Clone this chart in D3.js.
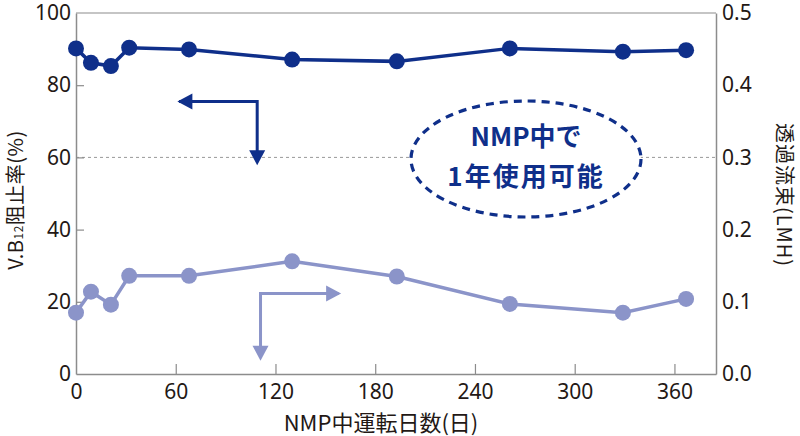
<!DOCTYPE html>
<html><head><meta charset="utf-8">
<script src="https://cdn.jsdelivr.net/npm/d3@7"></script>
<style>
body{margin:0;background:#fff;}
text{font-family:"Noto Sans CJK JP","Noto Sans",sans-serif;}
</style></head>
<body><svg id="c" width="800" height="436"></svg>
<script>
const days = [0, 9, 21, 32, 68, 130, 193, 261, 329, 367];
const rejection = [90.2, 86.2, 85.3, 90.4, 89.9, 87.1, 86.6, 90.2, 89.3, 89.7];
const flux = [0.085, 0.114, 0.096, 0.136, 0.136, 0.156, 0.135, 0.097, 0.085, 0.104];
const xTicks = [0, 60, 120, 180, 240, 300, 360];
const yLeftTicks = [0, 20, 40, 60, 80, 100];
const yRightTicks = [0, 0.1, 0.2, 0.3, 0.4, 0.5];

const svg = d3.select("#c");
const L = 76, R = 716, T = 13, B = 374;
const x = d3.scaleLinear().domain([0, 385]).range([L, R]);
const yL = d3.scaleLinear().domain([0, 100]).range([B, T]);
const yR = d3.scaleLinear().domain([0, 0.5]).range([B, T]);
const axisCol = "#8c8c8c", textCol = "#231815";
const dark = "#0f2f8a", light = "#8b94c9";

// frame
svg.append("line").attr("x1", L).attr("x2", R).attr("y1", T).attr("y2", T).attr("stroke", axisCol).attr("stroke-width", 1.2);
// gridline at 60
svg.append("line").attr("x1", L).attr("x2", R).attr("y1", yL(60)).attr("y2", yL(60))
  .attr("stroke", "#999").attr("stroke-width", 1).attr("stroke-dasharray", "3,3");

function styleAxis(g){
  g.selectAll(".domain").attr("stroke", axisCol).attr("stroke-width", 1.5);
  g.selectAll(".tick line").attr("stroke", axisCol).attr("stroke-width", 1.2);
  g.selectAll(".tick text").attr("fill", textCol).style("font-family", "'Noto Sans', sans-serif").style("font-size", "21px");
}
const gx = svg.append("g").attr("transform", `translate(0,${B})`)
  .call(d3.axisBottom(x).tickValues(xTicks).tickSizeInner(-10).tickSizeOuter(0).tickPadding(10));
styleAxis(gx);
gx.selectAll(".tick line").filter(d => d === 0).remove();
const gl = svg.append("g").attr("transform", `translate(${L},0)`)
  .call(d3.axisLeft(yL).tickValues(yLeftTicks).tickSizeInner(-8).tickSizeOuter(0).tickPadding(5));
styleAxis(gl);
gl.selectAll(".tick line").filter(d => d === 0 || d === 100).remove();
const gr = svg.append("g").attr("transform", `translate(${R},0)`)
  .call(d3.axisRight(yR).tickValues(yRightTicks).tickSizeInner(0).tickSizeOuter(0).tickPadding(6).tickFormat(d3.format(".1f")));
styleAxis(gr);

// axis titles
svg.append("text").attr("x", 381).attr("y", 431).attr("text-anchor", "middle")
  .attr("fill", textCol).style("font-size", "22px").text("NMP中運転日数(日)");
const lt = svg.append("text").attr("transform", "translate(23,200) rotate(-90)").attr("text-anchor", "middle")
  .attr("fill", textCol).style("font-size", "20px").style("letter-spacing", "0.5px");
lt.append("tspan").text("V.B");
lt.append("tspan").style("font-size", "12px").text("12");
lt.append("tspan").text("阻止率(%)");
svg.append("text").attr("transform", "translate(777,195) rotate(90)").attr("text-anchor", "middle")
  .attr("fill", textCol).style("font-size", "20px").style("letter-spacing", "1px").text("透過流束(LMH)");

// series
const lineL = d3.line().x((d, i) => x(days[i])).y(d => yL(d));
const lineR = d3.line().x((d, i) => x(days[i])).y(d => yR(d));
svg.append("path").attr("d", lineR(flux)).attr("fill", "none").attr("stroke", light).attr("stroke-width", 3.5);
svg.selectAll(".pf").data(flux).enter().append("circle")
  .attr("cx", (d, i) => x(days[i])).attr("cy", d => yR(d)).attr("r", 8).attr("fill", light);
svg.append("path").attr("d", lineL(rejection)).attr("fill", "none").attr("stroke", dark).attr("stroke-width", 3.5);
svg.selectAll(".pr").data(rejection).enter().append("circle")
  .attr("cx", (d, i) => x(days[i])).attr("cy", d => yL(d)).attr("r", 8).attr("fill", dark);

// arrows
function arrowHead(tipX, tipY, dir, col){
  const s = 15, w = 8;
  let pts;
  if (dir === "left") pts = [[tipX, tipY], [tipX + s, tipY - w], [tipX + s, tipY + w]];
  if (dir === "right") pts = [[tipX, tipY], [tipX - s, tipY - w], [tipX - s, tipY + w]];
  if (dir === "down") pts = [[tipX, tipY], [tipX - w, tipY - s], [tipX + w, tipY - s]];
  svg.append("polygon").attr("points", pts.map(p => p.join(",")).join(" ")).attr("fill", col);
}
// dark arrow
svg.append("path").attr("d", `M${x(62)},${yL(75.5)} H${x(109)} V${yL(59)}`)
  .attr("fill", "none").attr("stroke", dark).attr("stroke-width", 3);
arrowHead(x(61), yL(75.5), "left", dark);
arrowHead(x(109), yL(57.8), "down", dark);
// light arrow
svg.append("path").attr("d", `M${x(158)},${yR(0.1115)} H${x(111)} V${yR(0.025)}`)
  .attr("fill", "none").attr("stroke", light).attr("stroke-width", 3);
arrowHead(x(159.5), yR(0.1115), "right", light);
arrowHead(x(111), yR(0.0185), "down", light);

// ellipse annotation
svg.append("ellipse").attr("cx", 526).attr("cy", 159).attr("rx", 115).attr("ry", 58)
  .attr("fill", "#fff").attr("stroke", dark).attr("stroke-width", 3.2).attr("stroke-dasharray", "8,6");
svg.append("text").attr("x", 526).attr("y", 146).attr("text-anchor", "middle").attr("fill", dark)
  .style("font-size", "26px").style("font-weight", "bold").text("NMP中で");
svg.append("text").attr("x", 526).attr("y", 186).attr("text-anchor", "middle").attr("fill", dark)
  .style("font-size", "26px").style("font-weight", "bold").style("letter-spacing", "2px").text("1年使用可能");
</script></body></html>
